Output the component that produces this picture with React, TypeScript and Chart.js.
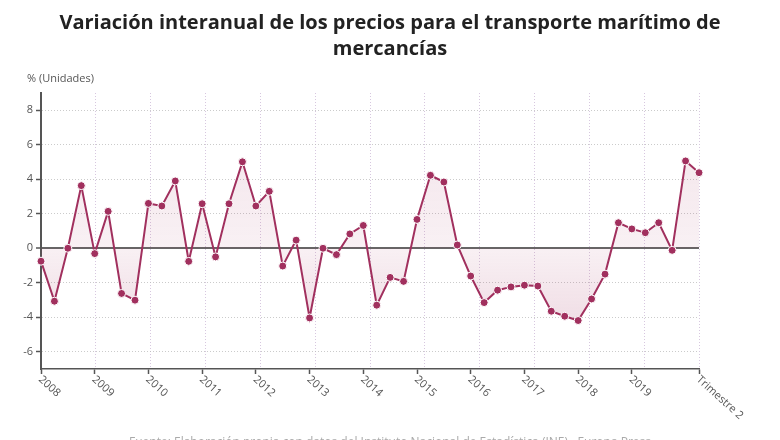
import { useEffect, useRef } from "react";
import { Chart, registerables } from "chart.js";

Chart.register(...registerables);

// ---- data ----
const years = ["2008", "2009", "2010", "2011", "2012", "2013", "2014", "2015", "2016", "2017", "2018", "2019"];
const quarters = ["T1", "T2", "T3", "T4"];
const categories = [...years.flatMap((y) => quarters.map((q) => `${y} ${q}`)), "2020 T1", "2020 T2"];
const values = [
  -0.75, -3.07, 0.0, 3.63, -0.31, 2.14, -2.62, -3.01,
  2.6, 2.45, 3.9, -0.76, 2.58, -0.5, 2.58, 5.01,
  2.45, 3.3, -1.03, 0.47, -4.04, 0.0, -0.37, 0.83,
  1.32, -3.3, -1.69, -1.92, 1.67, 4.23, 3.84, 0.19,
  -1.61, -3.15, -2.43, -2.24, -2.14, -2.19, -3.65, -3.94,
  -4.19, -2.94, -1.5, 1.48, 1.12, 0.9, 1.48, -0.12,
  5.06, 4.38,
];
const lastLabel = "Trimestre 2";
const yTicks = [-6, -4, -2, 0, 2, 4, 6, 8];
const yMin = -7;
const yMax = 9;
const titleLines = ["Variación interanual de los precios para el transporte marítimo de", "mercancías"];
const unitLabel = "% (Unidades)";
const footerText = "Fuente: Elaboración propia con datos del Instituto Nacional de Estadística (INE) · Europa Press";

const LINE = "#a1305e";
const FONT = "'Open Sans', 'Noto Sans', sans-serif";

const isLabeled = (i: number) => (i % 4 === 0 && i < years.length * 4) || i === categories.length - 1;
const tickText = (i: number) => (i < years.length * 4 ? years[i / 4] : lastLabel);

const textPlugin = {
  id: "texts",
  afterDraw(chart: any) {
    const { ctx } = chart;
    const x = chart.scales.x;
    ctx.save();
    // title
    ctx.fillStyle = "#222";
    ctx.font = `bold 20px ${FONT}`;
    ctx.textAlign = "center";
    ctx.textBaseline = "middle";
    ctx.fillText(titleLines[0], 390, 23);
    ctx.fillText(titleLines[1], 390, 49);
    // unit label
    ctx.font = `11px ${FONT}`;
    ctx.fillStyle = "#555";
    ctx.textAlign = "left";
    ctx.fillText(unitLabel, 27, 79);
    // x labels
    ctx.font = `11px ${FONT}`;
    ctx.fillStyle = "#555";
    x.ticks.forEach((t: any, idx: number) => {
      const px = x.getPixelForTick(idx);
      ctx.save();
      ctx.translate(px - 1, x.top + 9);
      ctx.rotate((42 * Math.PI) / 180);
      ctx.textAlign = "left";
      ctx.textBaseline = "middle";
      ctx.fillText(tickText(t.value), 0, 0);
      ctx.restore();
    });
    // footer (cut off at bottom)
    ctx.font = `12px ${FONT}`;
    ctx.fillStyle = "#aaa";
    ctx.textAlign = "center";
    ctx.textBaseline = "top";
    ctx.fillText(footerText, 390, 437);
    ctx.restore();
  },
};

export default function App() {
  const ref = useRef<HTMLCanvasElement>(null);
  useEffect(() => {
    document.body.style.margin = "0";
    const canvas = ref.current!;
    const chart = new Chart(canvas, {
      type: "line",
      data: {
        labels: categories,
        datasets: [
          {
            data: values,
            borderColor: LINE,
            borderWidth: 2,
            pointRadius: 4,
            pointBackgroundColor: LINE,
            pointBorderColor: "#ffffff",
            pointBorderWidth: 1,
            tension: 0,
            clip: false as any,
            fill: "origin",
            backgroundColor: (c: any) => {
              const a = c.chart.chartArea;
              if (!a) return "rgba(163,48,95,0.1)";
              const g = c.chart.ctx.createLinearGradient(0, a.top, 0, a.bottom);
              const z = (yMax - 0) / (yMax - yMin);
              g.addColorStop(0, "rgba(163,48,95,0.14)");
              g.addColorStop(z, "rgba(163,48,95,0.07)");
              g.addColorStop(1, "rgba(163,48,95,0.22)");
              return g;
            },
          },
        ],
      },
      options: {
        responsive: false,
        animation: false,
        devicePixelRatio: 1,
        layout: { padding: { top: 93, right: 81, bottom: 0, left: 0 } },
        plugins: { legend: { display: false }, tooltip: { enabled: false }, title: { display: false } },
        scales: {
          x: {
            type: "category",
            position: "bottom",
            offset: false,
            ticks: { display: false, autoSkip: false },
            afterBuildTicks: (s: any) => {
              s.ticks = s.ticks.filter((t: any) => isLabeled(t.value));
            },
            afterFit: (s: any) => {
              s.height = 71;
            },
            grid: { drawOnChartArea: false, drawTicks: true, tickLength: 5, tickColor: "#555", tickWidth: 1.5 },
            border: { display: true, color: "#555", width: 1.5 },
          },
          xg: {
            type: "linear",
            position: "top",
            min: 0,
            max: 12,
            ticks: { display: false, stepSize: 1 },
            afterFit: (s: any) => {
              s.height = 0;
            },
            grid: { color: "rgba(205,185,215,0.8)", lineWidth: 1, drawTicks: false },
            border: { display: false, dash: [1, 2] },
          },
          y: {
            min: yMin,
            max: yMax,
            afterBuildTicks: (s: any) => {
              s.ticks = yTicks.map((v) => ({ value: v }));
            },
            afterFit: (s: any) => {
              s.width = 41;
            },
            ticks: { color: "#555", font: { family: FONT, size: 11 }, padding: 3 },
            grid: {
              color: (c: any) => (c.tick && c.tick.value === 0 ? "#666" : "rgba(185,185,185,0.75)"),
              lineWidth: (c: any) => (c.tick && c.tick.value === 0 ? 2 : 1),
              tickColor: "#555",
              tickLength: 5,
              tickWidth: 1.5,
              drawTicks: true,
            },
            border: {
              color: "#555",
              width: 2,
              dash: (c: any) => (c.tick && c.tick.value !== 0 ? [1, 2] : []),
            },
          },
        },
      },
      plugins: [textPlugin],
    } as any);
    return () => chart.destroy();
  }, []);
  return (
    <div style={{ position: "fixed", left: 0, top: 0, width: 780, height: 440, background: "#fff" }}>
      <canvas ref={ref} width={780} height={440} />
    </div>
  );
}
